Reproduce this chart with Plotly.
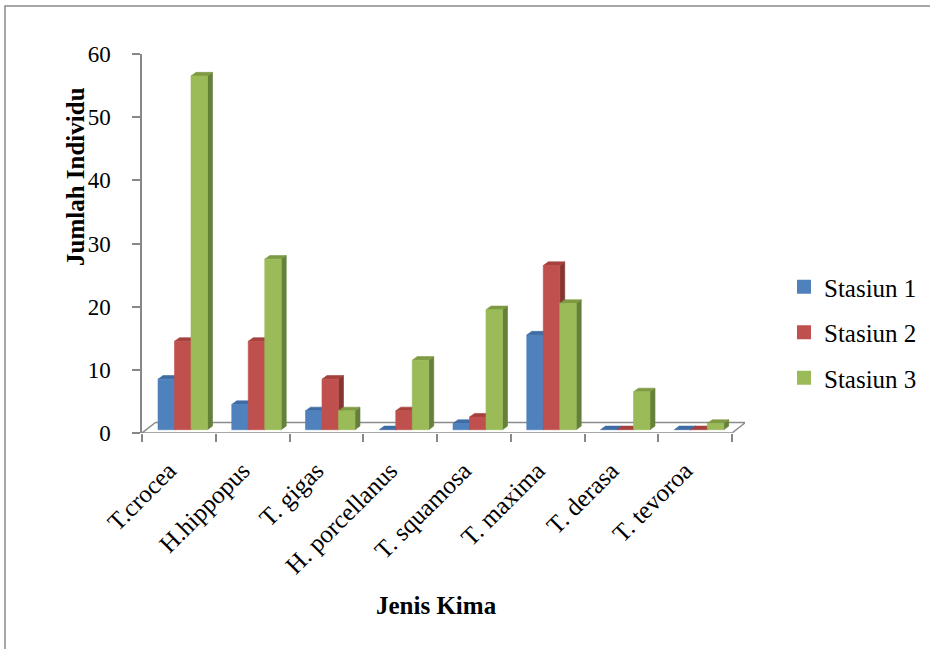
import plotly.graph_objects as go

# Jumlah individu kima per jenis di tiap stasiun
categories = ["T.crocea", "H.hippopus", "T. gigas", "H. porcellanus",
              "T. squamosa", "T. maxima", "T. derasa", "T. tevoroa"]
stasiun_1 = [8, 4, 3, 0, 1, 15, 0, 0]
stasiun_2 = [14, 14, 8, 3, 2, 26, 0, 0]
stasiun_3 = [56, 27, 3, 11, 19, 20, 6, 1]
series_names = ["Stasiun 1", "Stasiun 2", "Stasiun 3"]
y_ticks = [0, 10, 20, 30, 40, 50, 60]

series_values = [stasiun_1, stasiun_2, stasiun_3]
front_colors = ["#4F81BD", "#C0504D", "#9BBB59"]
top_colors = ["#3F6CA2", "#A6403D", "#7E9A43"]
side_colors = ["#345783", "#853532", "#65803A"]

# canvas geometry (pixels)
W, H = 930, 649
L, R, T, B = 142, 185, 54, 216
plot_w = W - L - R
plot_h = H - T - B
cat_px = 73.75
y_max = 60
px_x = 1.0 / cat_px                 # x units per pixel
px_y = y_max / plot_h               # y units per pixel
x_lo = -0.5
x_hi = x_lo + plot_w * px_x
n = len(categories)

# pseudo-3D depth vectors
floor_dx, floor_dy = 13.5 * px_x, 10.5 * px_y
bar_dx, bar_dy = 5.0 * px_x, 3.6 * px_y
base_y = 3.3 * px_y
bar_off = 16.0 * px_x
bar_w = 16.5 * px_x
label_shift = 10.0 * px_x


def poly_trace(xs, ys, color, fill_color=None, width=0.6):
    return go.Scatter(x=xs, y=ys, mode="lines", fill="toself",
                      fillcolor=fill_color or color,
                      line=dict(color=color, width=width),
                      hoverinfo="skip", showlegend=False, cliponaxis=False)


fig = go.Figure()

# floor
fx = [x_lo, x_lo + n, x_lo + n + floor_dx, x_lo + floor_dx, x_lo]
fy = [0, 0, floor_dy, floor_dy, 0]
fig.add_trace(poly_trace(fx, fy, "#8C8C8C", fill_color="white", width=1.5))

# bars: side, top and front faces, series by series
for i, vals in enumerate(series_values):
    sx, sy, tx, ty, ffx, ffy = [], [], [], [], [], []
    for k, v in enumerate(vals):
        x0 = k - 0.5 + bar_off + i * bar_w
        x1 = x0 + bar_w
        yb = base_y
        yt = base_y + v
        sx += [x1, x1 + bar_dx, x1 + bar_dx, x1, x1, None]
        sy += [yb, yb + bar_dy, yt + bar_dy, yt, yb, None]
        tx += [x0, x1, x1 + bar_dx, x0 + bar_dx, x0, None]
        ty += [yt, yt, yt + bar_dy, yt + bar_dy, yt, None]
        if v > 0:
            ffx += [x0, x1, x1, x0, x0, None]
            ffy += [yb, yb, yt, yt, yb, None]
    fig.add_trace(poly_trace(sx, sy, side_colors[i]))
    fig.add_trace(poly_trace(tx, ty, top_colors[i]))
    fig.add_trace(poly_trace(ffx, ffy, front_colors[i]))

# legend entries
for i, name in enumerate(series_names):
    fig.add_trace(go.Scatter(x=[None], y=[None], mode="markers", name=name,
                             marker=dict(symbol="square", size=14,
                                         color=front_colors[i]),
                             legendgroup=name))

# category tick marks at the group boundaries
fig.add_trace(go.Scatter(x=[None], y=[None], xaxis="x2", showlegend=False,
                         hoverinfo="skip"))

serif = "Liberation Serif"
axis_gray = "#878787"

fig.update_layout(
    width=W, height=H,
    margin=dict(l=L, r=R, t=T, b=B, pad=0),
    paper_bgcolor="white", plot_bgcolor="white",
    font=dict(family=serif, color="black"),
    xaxis=dict(range=[x_lo, x_hi],
               tickvals=[k - label_shift for k in range(n)],
               ticktext=categories,
               tickangle=-45, ticks="", showgrid=False, zeroline=False,
               showline=False, tickfont=dict(size=25, family=serif),
               ticklabelstandoff=17, fixedrange=True),
    xaxis2=dict(overlaying="x", side="bottom", range=[x_lo, x_hi],
                tickvals=[k - 0.5 for k in range(n + 1)],
                ticktext=[""] * (n + 1), ticks="outside", ticklen=8,
                tickwidth=1.5, tickcolor=axis_gray, showgrid=False,
                zeroline=False, showline=False),
    yaxis=dict(range=[0, y_max], tickvals=y_ticks, ticks="outside", ticklen=8,
               tickwidth=1.5, tickcolor=axis_gray, showline=True,
               linecolor=axis_gray, linewidth=1.5, showgrid=False,
               zeroline=False, tickfont=dict(size=23, family=serif),
               ticklabelstandoff=17),
    legend=dict(xref="container", yref="container",
                x=784 / W, y=1 - 264 / H,
                xanchor="left", yanchor="top", font=dict(size=25, family=serif),
                tracegroupgap=10, traceorder="grouped",
                bgcolor="rgba(0,0,0,0)"),
    annotations=[
        dict(text="<b>Jumlah Individu</b>", xref="paper", yref="paper",
             x=(75 - L) / plot_w, y=(H - B - 177) / plot_h, textangle=-90,
             showarrow=False, xanchor="center", yanchor="middle",
             font=dict(size=25, family=serif)),
        dict(text="<b>Jenis Kima</b>", xref="paper", yref="paper",
             x=(436 - L) / plot_w, y=(H - B - 605) / plot_h, showarrow=False,
             xanchor="center", yanchor="middle",
             font=dict(size=25, family=serif)),
    ],
    shapes=[
        dict(type="rect", xref="paper", yref="paper",
             x0=(5 - L) / plot_w, x1=(940 - L) / plot_w,
             y0=(H - B - 660) / plot_h, y1=(H - B - 6) / plot_h,
             line=dict(color="#8A8A8A", width=1.5), fillcolor="rgba(0,0,0,0)",
             layer="below"),
    ],
)

fig.write_html("out.html")
